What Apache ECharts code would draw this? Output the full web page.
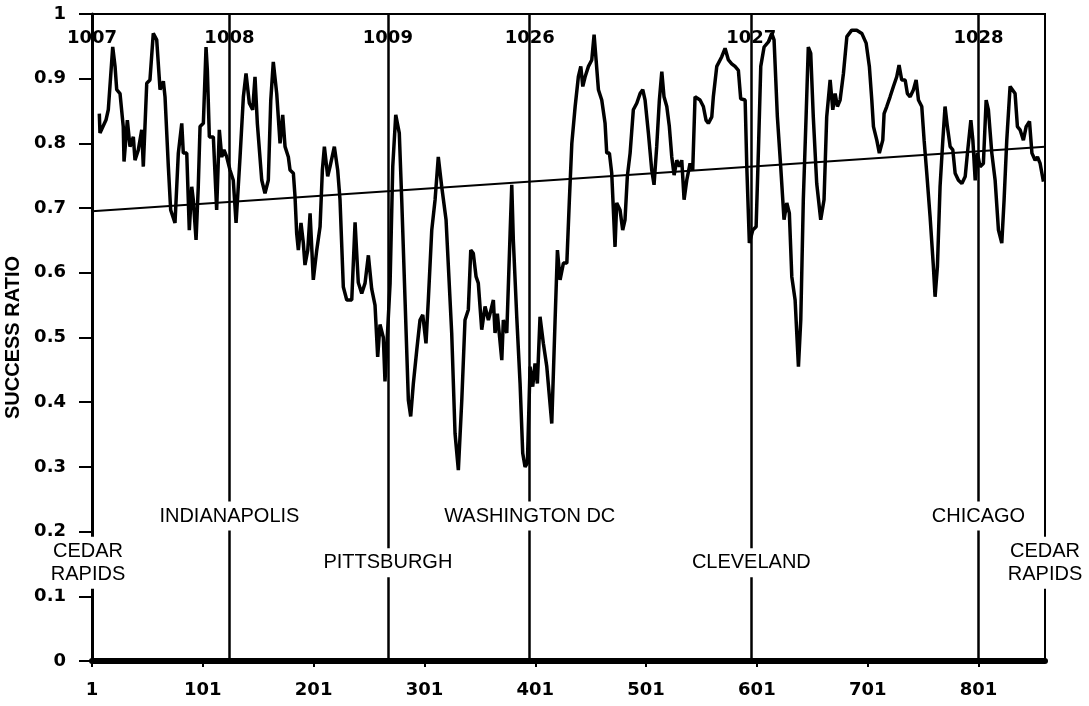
<!DOCTYPE html>
<html>
<head>
<meta charset="utf-8">
<script src="https://cdn.jsdelivr.net/npm/echarts@6/dist/echarts.min.js"></script>
<style>
  html, body { margin: 0; background: #fff; }
  #chart { width: 1089px; height: 706px; }
</style>
</head>
<body>
<div id="chart"></div>
<script>
// moving success ratio along the route (sample index -> ratio)
const sampleX = [
  7.6, 8.2, 13.6, 15.7, 19.7, 21.8, 23.3, 26.3, 29.2, 29.9, 32.9, 35.3, 38.3, 39.8, 42.8, 45.9,
  47.3, 48.8, 50.4, 53.3, 56.3, 59.4, 62.4, 65.4, 66.9, 69.9, 72.0, 75.9, 78.9, 82.0, 83.4, 86.5,
  88.8, 91.0, 92.4, 94.9, 96.9, 98.5, 101.5, 103.9, 105.1, 106.9, 110.5, 113.5, 115.9, 118.1, 120.1,
  122.6, 125.5, 128.5, 131.0, 133.0, 134.6, 137.6, 140.0, 143.0, 146.0, 148.1, 150.2, 154.2, 157.1,
  160.1, 162.3, 164.6, 167.7, 170.7, 173.1, 175.2, 178.2, 179.7, 182.7, 184.2, 185.7, 187.2, 189.6,
  191.7, 193.2, 195.7, 197.8, 200.7, 203.8, 206.8, 208.9, 210.7, 213.7, 215.8, 219.7, 222.7, 224.8,
  227.8, 230.9, 235.4, 238.4, 241.3, 244.4, 247.4, 250.4, 253.4, 256.4, 258.8, 260.9, 263.9, 265.4,
  267.0, 270.0, 272.4, 275.1, 278.3, 280.5, 283.5, 286.5, 288.6, 291.0, 294.1, 297.0, 299.5, 302.4,
  304.5, 307.6, 310.6, 313.5, 316.6, 320.5, 325.6, 328.6, 331.6, 334.7, 337.6, 340.6, 342.8, 345.1,
  347.6, 349.6, 352.7, 355.7, 358.7, 360.2, 363.2, 364.7, 366.8, 370.8, 372.2, 375.3, 378.3, 379.8,
  381.2, 384.3, 387.3, 389.7, 391.8, 393.9, 396.3, 398.7, 400.8, 402.9, 405.3, 408.3, 411.4, 415.9,
  418.9, 421.0, 423.4, 426.4, 429.5, 431.8, 434.0, 437.0, 439.9, 442.1, 443.9, 446.0, 449.0, 452.0,
  454.1, 455.9, 458.0, 461.0, 464.0, 465.5, 467.9, 470.0, 473.0, 474.5, 477.5, 479.9, 482.0, 484.1,
  486.6, 489.5, 492.6, 495.6, 498.0, 500.1, 503.1, 506.1, 508.2, 510.6, 513.0, 515.2, 517.2, 519.7,
  522.0, 524.2, 526.3, 528.7, 531.1, 533.2, 535.3, 537.7, 540.7, 543.1, 545.2, 549.7, 552.7, 555.1,
  557.2, 560.3, 561.7, 564.8, 569.3, 572.3, 575.3, 578.3, 581.3, 584.3, 586.4, 590.4, 591.9, 594.2,
  597.3, 600.3, 602.4, 604.5, 607.5, 611.4, 614.4, 616.5, 619.5, 622.5, 625.5, 628.0, 630.3, 632.5,
  635.5, 638.5, 640.6, 642.9, 645.4, 647.4, 649.6, 651.9, 655.0, 658.6, 661.6, 664.0, 667.1, 669.5,
  671.6, 673.7, 676.1, 679.1, 682.2, 686.6, 691.1, 695.7, 699.6, 702.5, 704.7, 706.2, 709.2, 711.5,
  714.6, 715.8, 718.2, 721.2, 724.2, 727.2, 729.3, 731.7, 734.8, 736.8, 739.3, 742.3, 744.7, 746.8,
  749.8, 751.9, 754.3, 757.3, 760.3, 761.8, 763.9, 766.3, 768.8, 770.8, 772.9, 775.4, 777.8, 779.9,
  782.9, 786.0, 789.0, 791.0, 794.1, 795.9, 798.0, 800.0, 802.4, 805.4, 807.9, 809.9, 813.0, 816.0,
  819.0, 822.0, 824.1, 826.5, 829.5, 834.0, 836.1, 838.5, 841.5, 844.0, 847.0, 849.2, 852.1, 854.2,
  856.6, 859.6
];
const ratio = [
  0.846, 0.816, 0.836, 0.852, 0.949, 0.919, 0.883, 0.877, 0.826, 0.772, 0.836, 0.795, 0.810, 0.774, 0.790, 0.821,
  0.764, 0.826, 0.893, 0.898, 0.970, 0.960, 0.883, 0.896, 0.872, 0.764, 0.697, 0.677, 0.785, 0.831, 0.785, 0.785,
  0.666, 0.733, 0.713, 0.651, 0.733, 0.826, 0.831, 0.949, 0.913, 0.810, 0.810, 0.697, 0.821, 0.779, 0.790,
  0.779, 0.759, 0.743, 0.677, 0.733, 0.779, 0.872, 0.908, 0.862, 0.852, 0.903, 0.831, 0.743, 0.723,
  0.743, 0.866, 0.926, 0.877, 0.800, 0.844, 0.795, 0.779, 0.759, 0.754, 0.718, 0.661, 0.635, 0.677,
  0.646, 0.612, 0.635, 0.692, 0.589, 0.635, 0.671, 0.759, 0.795, 0.749, 0.764, 0.795, 0.759, 0.713,
  0.578, 0.558, 0.558, 0.678, 0.585, 0.568, 0.584, 0.627, 0.575, 0.550, 0.470, 0.520, 0.500, 0.432,
  0.434, 0.584, 0.764, 0.844, 0.816, 0.713, 0.558, 0.403, 0.378, 0.429, 0.481, 0.527, 0.535, 0.491,
  0.558, 0.666, 0.713, 0.779, 0.733, 0.682, 0.507, 0.352, 0.295, 0.403, 0.527, 0.543, 0.635, 0.630,
  0.594, 0.584, 0.512, 0.548, 0.527, 0.537, 0.558, 0.507, 0.537, 0.465, 0.527, 0.507, 0.661, 0.736,
  0.651, 0.532, 0.429, 0.321, 0.300, 0.306, 0.455, 0.424, 0.460, 0.429, 0.532, 0.491, 0.455, 0.367,
  0.527, 0.635, 0.589, 0.615, 0.615, 0.713, 0.800, 0.857, 0.903, 0.919, 0.888, 0.903, 0.919, 0.929,
  0.968, 0.929, 0.883, 0.867, 0.831, 0.785, 0.785, 0.754, 0.640, 0.708, 0.697, 0.666, 0.682, 0.749,
  0.785, 0.852, 0.862, 0.877, 0.883, 0.867, 0.816, 0.759, 0.736, 0.795, 0.867, 0.911, 0.872, 0.857,
  0.826, 0.779, 0.751, 0.774, 0.764, 0.774, 0.713, 0.743, 0.769, 0.759, 0.872, 0.867, 0.857, 0.836,
  0.831, 0.841, 0.872, 0.919, 0.934, 0.947, 0.929, 0.923, 0.919, 0.913, 0.869, 0.867, 0.764, 0.646,
  0.666, 0.671, 0.790, 0.919, 0.949, 0.957, 0.970, 0.960, 0.841, 0.764, 0.682, 0.708, 0.692, 0.594,
  0.558, 0.455, 0.527, 0.713, 0.841, 0.949, 0.939, 0.841, 0.738, 0.682, 0.713, 0.841, 0.898, 0.852,
  0.877, 0.857, 0.867, 0.908, 0.965, 0.975, 0.975, 0.970, 0.955, 0.919, 0.867, 0.826, 0.805, 0.785,
  0.805, 0.846, 0.857, 0.872, 0.888, 0.903, 0.921, 0.898, 0.898, 0.877, 0.872, 0.883, 0.898, 0.867,
  0.857, 0.805, 0.754, 0.687, 0.609, 0.563, 0.609, 0.733, 0.805, 0.857, 0.826, 0.795, 0.790, 0.754,
  0.743, 0.738, 0.749, 0.785, 0.836, 0.805, 0.743, 0.785, 0.764, 0.769, 0.867, 0.852, 0.785, 0.743,
  0.666, 0.646, 0.713, 0.805, 0.888, 0.877, 0.826, 0.821, 0.805, 0.826, 0.834, 0.785, 0.774, 0.779,
  0.769, 0.741
];

// linear trend over the whole route
const trendX = [1, 861];
const trendY = [0.695, 0.795];

// station change points
const stationX = [1, 125, 268, 396, 596, 801];
const stationNames = ['1007', '1008', '1009', '1026', '1027', '1028'];
const boundaryX = [125, 268, 396, 596, 801];

// cities along the route
const cityX = [1, 125, 268, 396, 596, 801, 861];
const cityNames = ['CEDAR\nRAPIDS', 'INDIANAPOLIS', 'PITTSBURGH', 'WASHINGTON DC', 'CLEVELAND', 'CHICAGO', 'CEDAR\nRAPIDS'];

const xTicks = [1, 101, 201, 301, 401, 501, 601, 701, 801];

const numFont = 'DejaVu Sans';
const textFont = 'Liberation Sans';

const chart = echarts.init(document.getElementById('chart'));

chart.setOption({
  animation: false,
  backgroundColor: '#fff',
  grid: {
    left: 92, right: 44, top: 14, bottom: 45,
    containLabel: false, outerBoundsMode: 'none',
    show: true, borderColor: '#000', borderWidth: 2
  },
  xAxis: {
    type: 'value',
    min: 1,
    max: 861,
    axisLine: {lineStyle: {color: '#000', width: 6}},
    axisTick: {customValues: xTicks, length: 6, lineStyle: {color: '#000', width: 2}},
    axisLabel: {
      customValues: xTicks,
      margin: 20,
      color: '#000',
      fontFamily: numFont,
      fontWeight: 'bold',
      fontSize: 18
    },
    splitLine: {show: false}
  },
  yAxis: {
    type: 'value',
    min: 0,
    max: 1,
    interval: 0.1,
    name: 'SUCCESS RATIO',
    nameLocation: 'middle',
    nameGap: 63,
    nameRotate: 90,
    nameTextStyle: {color: '#000', fontFamily: textFont, fontWeight: 'bold', fontSize: 20},
    axisLine: {show: true, lineStyle: {color: '#000', width: 3}},
    axisTick: {show: true, length: 13, lineStyle: {color: '#000', width: 2}},
    axisLabel: {margin: 26, color: '#000', fontFamily: numFont, fontWeight: 'bold', fontSize: 18},
    splitLine: {show: false}
  },
  series: [
    {
      type: 'line',
      data: sampleX.map((x, i) => [x, ratio[i]]),
      showSymbol: false,
      lineStyle: {color: '#000', width: 3.5},
      z: 3,
      markLine: {
        silent: true,
        symbol: 'none',
        label: {show: false},
        lineStyle: {color: '#000', width: 2.5, type: 'solid'},
        data: boundaryX.map(x => ({xAxis: x}))
      }
    },
    {
      type: 'line',
      data: trendX.map((x, i) => [x, trendY[i]]),
      showSymbol: false,
      lineStyle: {color: '#000', width: 2},
      z: 3
    },
    {
      // station numbers along the top
      type: 'scatter',
      symbolSize: 0,
      clip: false,
      z: 5,
      itemStyle: {opacity: 1},
      data: stationX.map((x, i) => ({name: stationNames[i], value: [x, 0.963]})),
      label: {
        show: true,
        position: 'inside',
        formatter: p => p.name,
        color: '#000',
        opacity: 1,
        fontFamily: numFont,
        fontWeight: 'bold',
        fontSize: 18
      }
    },
    {
      // city names, alternating rows
      type: 'scatter',
      symbolSize: 0,
      clip: false,
      z: 10,
      itemStyle: {opacity: 1},
      data: cityX.map((x, i) => ({
        name: cityNames[i],
        value: [x, i % 2 ? 0.224 : 0.152],
        label: i === 0 ? {offset: [-4, 0]} : {}
      })),
      label: {
        show: true,
        position: 'inside',
        formatter: p => p.name,
        color: '#000',
        opacity: 1,
        fontFamily: textFont,
        fontSize: 20,
        lineHeight: 23,
        align: 'center',
        backgroundColor: '#fff',
        padding: [3, 2]
      }
    }
  ]
});
</script>
</body>
</html>
